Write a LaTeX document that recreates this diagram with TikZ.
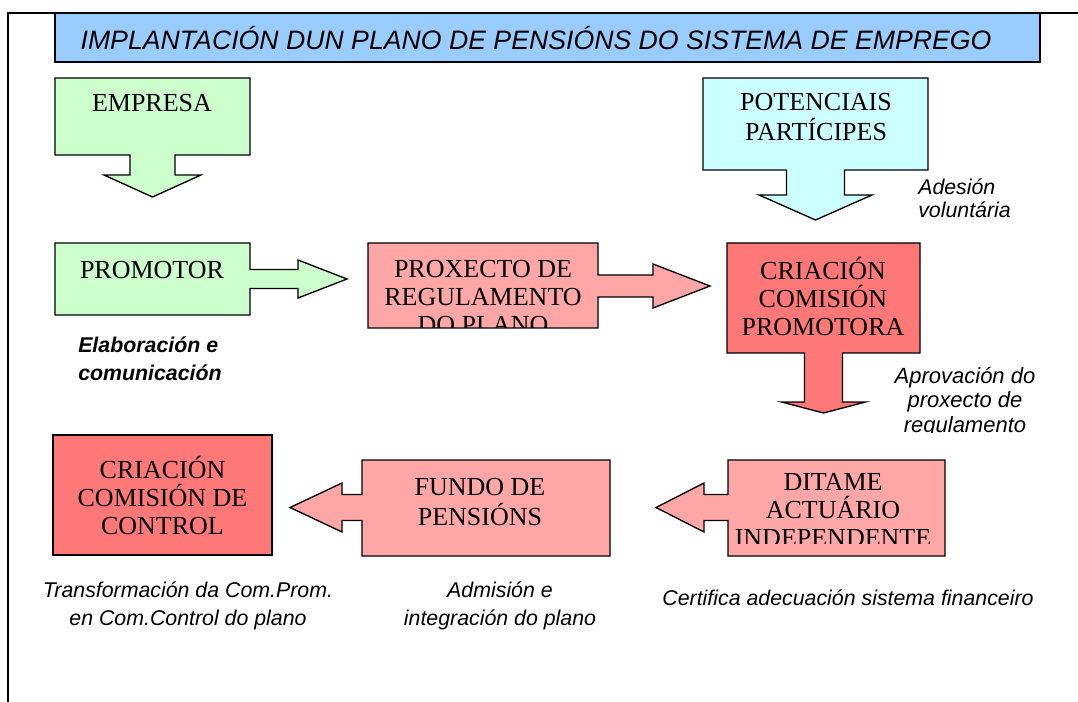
\documentclass[tikz,border=0pt]{standalone}
\usepackage{fontspec}
\setmainfont{Liberation Serif}
\newfontfamily\arialfont{Liberation Sans}
\usetikzlibrary{positioning}
\definecolor{titleblue}{RGB}{153,204,255}
\definecolor{lightgreen}{RGB}{204,255,204}
\definecolor{lightcyan}{RGB}{204,255,255}
\definecolor{lightred}{RGB}{255,166,166}
\definecolor{darkred}{RGB}{255,120,120}
\tikzset{
  boxtext/.style={font=\fontsize{19.5}{21}\selectfont, align=center, inner sep=0pt},
  notetext/.style={font=\arialfont\itshape\fontsize{16}{21}\selectfont, align=center, inner sep=0pt},
}
\newcommand{\drawdowncallout}[8]{
  \begin{scope}[shift={#1}]
  \draw[black,line width=1pt,fill=#8] (0,0) -- (#2,0) -- (#2,#3) -- ({#2/2+#4},#3) -- ++(0,#6)
    -- ({#2/2+#5},{#3+#6}) -- ({#2/2},{#3+#6+#7}) -- ({#2/2-#5},{#3+#6}) -- ({#2/2-#4},{#3+#6})
    -- ({#2/2-#4},#3) -- (0,#3) -- cycle;
  \end{scope}
}
\newcommand{\drawrightcallout}[9]{
  \begin{scope}[shift={#1}]
  \draw[black,line width=1pt,fill=#9] (0,0) -- (#2,0) -- (#2,{#4-#5}) -- ({#2+#7},{#4-#5})
    -- ({#2+#7},{#4-#6}) -- ({#2+#7+#8},#4) -- ({#2+#7},{#4+#6}) -- ({#2+#7},{#4+#5})
    -- (#2,{#4+#5}) -- (#2,#3) -- (0,#3) -- cycle;
  \end{scope}
}
\newcommand{\drawleftcallout}[9]{
  \begin{scope}[shift={#1}]
  \draw[black,line width=1pt,fill=#9] (0,0) -- (#2,0) -- (#2,#3) -- (0,#3) -- (0,{#4+#5})
    -- ({-#7},{#4+#5}) -- ({-#7},{#4+#6}) -- ({-#7-#8},#4) -- ({-#7},{#4-#6})
    -- ({-#7},{#4-#5}) -- (0,{#4-#5}) -- cycle;
  \end{scope}
}

\begin{document}
\begin{tikzpicture}[x=0.75pt,y=-0.75pt]
      \useasboundingbox (0,0) rectangle (1078,702);
      \draw[line width=1.2pt] (8,702) -- (8,13) -- (1078,13);
      \node[draw,line width=1pt,fill=titleblue,minimum width=738.75pt,minimum height=36.75pt,inner sep=0pt] (titlebox) at (547.5,37.5) {};
      \node[font=\arialfont\itshape\fontsize{20}{22}\selectfont,inner sep=0pt] (title) at (536,38) {IMPLANTACIÓN DUN PLANO DE PENSIÓNS DO SISTEMA DE EMPREGO};
      % top row
      \drawdowncallout{(55,78)}{195}{77}{22.5}{48.5}{20}{22}{lightgreen};
      \node[boxtext] (empresa) at (152,103) {EMPRESA};
      \drawdowncallout{(703,78)}{225}{92}{29}{56.5}{25}{25}{lightcyan};
      \node[boxtext,font=\fontsize{19.5}{23}\selectfont] (particip) at (816,117) {POTENCIAIS\\PARTÍCIPES};
      \node[notetext,align=left,anchor=west,font=\arialfont\itshape\fontsize{16}{17.5}\selectfont] (adesion) at (918,198) {Adesión\\voluntária};
      % middle row
      \drawrightcallout{(55,243)}{195}{72}{36}{9.5}{19}{48}{49}{lightgreen};
      \node[boxtext] (promotor) at (152,270) {PROMOTOR};
      \node[notetext,align=left,anchor=west,font=\arialfont\bfseries\itshape\fontsize{16}{21}\selectfont] (elab) at (78,359) {Elaboración e\\comunicación};
      \drawrightcallout{(368,243)}{230}{85}{43}{11}{22}{55}{57}{lightred};
      \begin{scope}
      \clip (368,243) rectangle (598,328);
      \node[boxtext] (proxecto) at (483,297) {PROXECTO DE\\REGULAMENTO\\DO PLANO};
      \end{scope}
      \drawdowncallout{(727,243)}{193}{110}{19}{42}{49}{11}{darkred};
      \node[boxtext] (comprom) at (823,296) {CRIACIÓN\\COMISIÓN\\PROMOTORA};
      \begin{scope}
      \clip (880,360) rectangle (1060,432);
      \node[notetext,font=\arialfont\itshape\fontsize{16.5}{18.5}\selectfont] (aprov) at (965,402) {Aprovación do\\proxecto de\\regulamento};
      \end{scope}
      % bottom row
      \node[draw,line width=1pt,fill=darkred,minimum width=164.25pt,minimum height=90pt,boxtext,inner sep=0pt] (comcontrol) at (162.5,495) {CRIACIÓN\\COMISIÓN DE\\CONTROL};
      \drawleftcallout{(362,460)}{248}{96}{47.5}{13}{24.5}{20}{52}{lightred};
      \node[boxtext,font=\fontsize{19.5}{23}\selectfont] (fundo) at (480,502) {FUNDO DE\\PENSIÓNS};
      \drawleftcallout{(728,460)}{217}{96}{47.5}{13}{24.5}{24}{48}{lightred};
      \begin{scope}
      \clip (728,460) rectangle (945,543);
      \node[boxtext] (ditame) at (833,510) {DITAME\\ACTUÁRIO\\INDEPENDENTE};
      \end{scope}
      \node[notetext] (transf) at (188,606) {Transformación da Com.Prom.\\en Com.Control do plano};
      \node[notetext] (admision) at (500,606) {Admisión e\\integración do plano};
      \node[notetext] (certif) at (848,598) {Certifica adecuación sistema financeiro};
\end{tikzpicture}
\end{document}
